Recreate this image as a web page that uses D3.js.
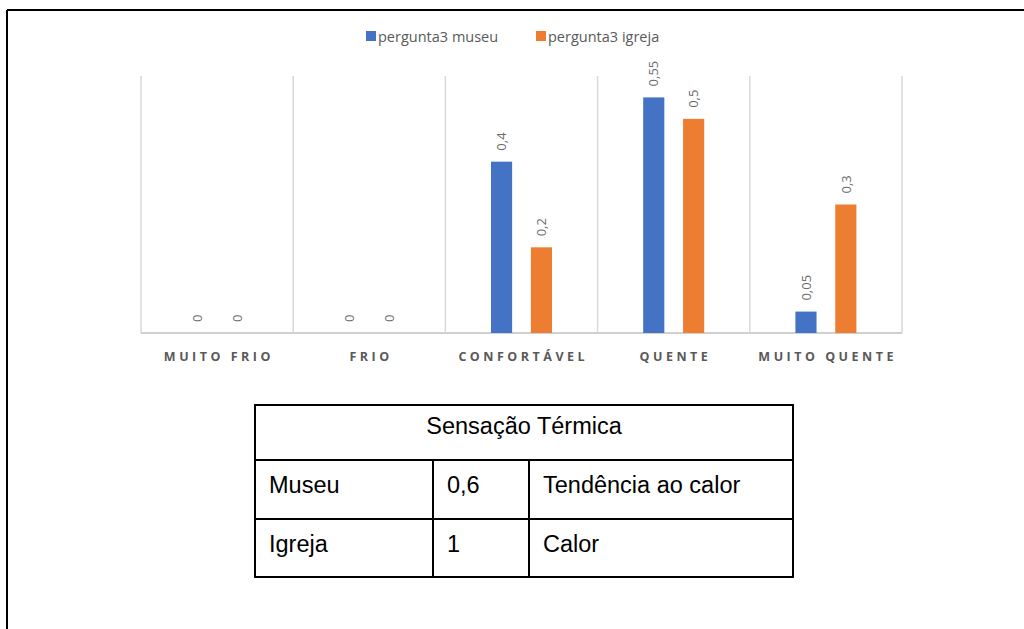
<!DOCTYPE html>
<html>
<head>
<meta charset="utf-8">
<script src="https://cdn.jsdelivr.net/npm/d3@7"></script>
<style>
  html, body { margin: 0; padding: 0; background: #fff; }
  svg { display: block; }
</style>
</head>
<body>
<svg id="chart" width="1024" height="629"></svg>
<script>
// Thermal sensation answers (question 3) for the museum and the church
const categories = ["MUITO FRIO", "FRIO", "CONFORTÁVEL", "QUENTE", "MUITO QUENTE"];
const seriesNames = ["pergunta3 museu", "pergunta3 igreja"];
const museuValues = [0, 0, 0.4, 0.55, 0.05];
const igrejaValues = [0, 0, 0.2, 0.5, 0.3];
const seriesColors = ["#4472C4", "#ED7D31"];

// Summary table below the chart
const tableTitle = "Sensação Térmica";
const tableRows = [
  ["Museu", "0,6", "Tendência ao calor"],
  ["Igreja", "1", "Calor"]
];

const svg = d3.select("#chart");
const W = 1024, H = 629;

// Page frame (top and left rules)
svg.append("line").attr("x1", 7).attr("x2", W).attr("y1", 10).attr("y2", 10)
  .attr("stroke", "#000").attr("stroke-width", 2);
svg.append("line").attr("x1", 7).attr("x2", 7).attr("y1", 10).attr("y2", H)
  .attr("stroke", "#000").attr("stroke-width", 2);

// Plot area
const plot = { left: 141, right: 902, top: 76, bottom: 333 };
const x0 = d3.scaleBand().domain(categories).range([plot.left, plot.right]).padding(0);
const x1 = d3.scaleBand().domain(seriesNames).range([-30.5, 30.5]).paddingInner(0.47);
const y = d3.scaleLinear().domain([0, 0.6]).range([plot.bottom, plot.top]);

const pt = d3.formatLocale({ decimal: ",", thousands: ".", grouping: [3], currency: ["R$", ""] });
const fmt = pt.format("~g");

// Vertical separators between categories
const edges = categories.map(c => x0(c)).concat([plot.right]);
svg.append("g").selectAll("line").data(edges).join("line")
  .attr("x1", d => d).attr("x2", d => d)
  .attr("y1", plot.top).attr("y2", plot.bottom)
  .attr("stroke", "#d9d9d9").attr("stroke-width", 1.5);

// Category axis
const xAxis = svg.append("g").attr("transform", `translate(0,${plot.bottom})`)
  .call(d3.axisBottom(x0).tickSize(0).tickPadding(0));
xAxis.select(".domain").attr("stroke", "#d0d0d0").attr("stroke-width", 2)
  .attr("d", `M${plot.left},0H${plot.right}`);
const spacing = 3.5;
xAxis.selectAll(".tick text")
  .attr("y", 28).attr("dy", 0)
  .attr("dx", spacing / 2)
  .attr("fill", "#595959")
  .style("font-family", "'Open Sans', sans-serif")
  .style("font-size", "12.5px")
  .style("font-weight", "700")
  .style("letter-spacing", spacing + "px");

// Bars
const rows = categories.map((c, i) => ({ cat: c, values: [museuValues[i], igrejaValues[i]] }));
const groups = svg.append("g").selectAll("g").data(rows).join("g")
  .attr("transform", d => `translate(${x0(d.cat) + x0.bandwidth() / 2},0)`);

const items = groups.selectAll("g.item")
  .data(d => d.values.map((v, j) => ({ name: seriesNames[j], value: v, color: seriesColors[j] })))
  .join("g").attr("class", "item");

items.append("rect")
  .attr("x", d => x1(d.name))
  .attr("width", x1.bandwidth())
  .attr("y", d => y(d.value))
  .attr("height", d => y(0) - y(d.value))
  .attr("fill", d => d.color);

// Rotated value labels above each bar
items.append("text")
  .attr("transform", d => `translate(${x1(d.name) + x1.bandwidth() / 2},${y(d.value) - 11}) rotate(-90)`)
  .attr("dy", "0.36em")
  .attr("text-anchor", "start")
  .attr("fill", "#6a6a6a")
  .style("font-family", "'Open Sans', sans-serif")
  .style("font-size", "13px")
  .text(d => fmt(d.value));

// Legend
const legendItems = [
  { name: seriesNames[0], color: seriesColors[0], x: 366 },
  { name: seriesNames[1], color: seriesColors[1], x: 536 }
];
const legend = svg.append("g").selectAll("g").data(legendItems).join("g")
  .attr("transform", d => `translate(${d.x},31)`);
legend.append("rect").attr("width", 10).attr("height", 10).attr("fill", d => d.color);
legend.append("text").attr("x", 12).attr("y", 11)
  .attr("fill", "#595959")
  .style("font-family", "'Open Sans', sans-serif")
  .style("font-size", "14.5px")
  .text(d => d.name);

// Summary table
const colX = [255, 433, 529, 793];
const rowY = [405, 460, 519, 577];
const table = svg.append("g");
const tableFont = "'Liberation Sans', Arial, sans-serif";
table.append("rect")
  .attr("x", colX[0]).attr("y", rowY[0])
  .attr("width", colX[3] - colX[0]).attr("height", rowY[3] - rowY[0])
  .attr("fill", "none").attr("stroke", "#000").attr("stroke-width", 2);
table.selectAll("line.h").data([rowY[1], rowY[2]]).join("line").attr("class", "h")
  .attr("x1", colX[0]).attr("x2", colX[3]).attr("y1", d => d).attr("y2", d => d)
  .attr("stroke", "#000").attr("stroke-width", 2);
table.selectAll("line.v").data([colX[1], colX[2]]).join("line").attr("class", "v")
  .attr("x1", d => d).attr("x2", d => d).attr("y1", rowY[1]).attr("y2", rowY[3])
  .attr("stroke", "#000").attr("stroke-width", 2);
table.append("text")
  .attr("x", (colX[0] + colX[3]) / 2).attr("y", rowY[0] + 29)
  .attr("text-anchor", "middle")
  .style("font-family", tableFont).style("font-size", "23.5px")
  .attr("fill", "#000")
  .text(tableTitle);
tableRows.forEach((r, i) => {
  r.forEach((cell, j) => {
    table.append("text")
      .attr("x", colX[j] + 14).attr("y", rowY[i + 1] + 33)
      .style("font-family", tableFont).style("font-size", "23.5px")
      .attr("fill", "#000")
      .text(cell);
  });
});
</script>
</body>
</html>
